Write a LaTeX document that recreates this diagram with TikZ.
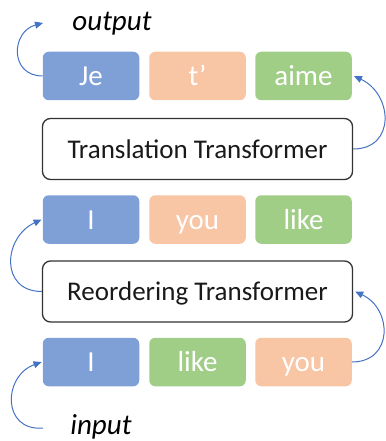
\documentclass[tikz,border=0pt]{standalone}
\usepackage{fontspec}
\setmainfont{Carlito}
\usetikzlibrary{arrows.meta}
\definecolor{tokblue}{HTML}{7FA0D6}
\definecolor{tokorange}{HTML}{F8C5A5}
\definecolor{tokgreen}{HTML}{A0CE86}
\definecolor{arrblue}{HTML}{4472C4}
\definecolor{boxline}{HTML}{333333}
\begin{document}
\begin{tikzpicture}[x=1pt,y=1pt,
  token/.style={rounded corners=6pt, minimum width=96.5pt, minimum height=48.5pt, inner sep=0pt,
    text=white, font=\fontsize{29}{29}\selectfont, text height=19pt, text depth=0pt},
  tblue/.style={token, fill=tokblue},
  torange/.style={token, fill=tokorange},
  tgreen/.style={token, fill=tokgreen},
  transf/.style={draw=boxline, line width=1.3pt, rounded corners=8pt, minimum width=310pt,
    minimum height=61pt, inner sep=0pt, font=\fontsize{27}{27}\selectfont, text=black!90,
    text height=18pt, text depth=0pt},
  lbl/.style={font=\fontsize{29}{29}\selectfont\itshape, text=black},
  flow/.style={draw=arrblue, line width=1pt, -{Triangle[length=8pt,width=7pt]}}
]
\useasboundingbox (0,0) rectangle (385,-441);
% row 1 (output)
\node[tblue]   (je)   at (91,-76) {Je};
\node[torange] (te)   at (197.5,-76) {t’};
\node[tgreen]  (aime) at (303.5,-76) {aime};
% translation transformer
\node[transf] (tt) at (197.5,-149) {Translation Transformer};
% row 2
\node[tblue]   (i2)   at (91,-219.5) {I};
\node[torange] (you2) at (197.5,-219.5) {you};
\node[tgreen]  (like2) at (303.5,-219.5) {like};
% reordering transformer
\node[transf] (rt) at (197.5,-291.5) {Reordering Transformer};
% row 3 (input)
\node[tblue]   (i3)   at (91,-362) {I};
\node[tgreen]  (like3) at (197.5,-362) {like};
\node[torange] (you3) at (303.5,-362) {you};
% labels
\node[lbl] (out) at (112,-24) {output};
\node[lbl] (inp) at (101,-427) {input};
\coordinate (outend) at (43,-23);
\coordinate (instart) at (43,-428);
% arrows
\draw[flow] (instart) to[out=185,in=200,looseness=1.6] ([xshift=-1pt]i3.west);
\draw[flow] (you3.east) to[out=0,in=-25,looseness=1.5] ([xshift=2pt]rt.east);
\draw[flow] (rt.west) to[out=180,in=205,looseness=1.5] ([xshift=-1pt]i2.west);
\draw[flow] (tt.east) to[out=0,in=-25,looseness=1.5] ([xshift=2pt]aime.east);
\draw[flow] (je.west) to[out=180,in=195,looseness=1.6] (outend);
\end{tikzpicture}
\end{document}
